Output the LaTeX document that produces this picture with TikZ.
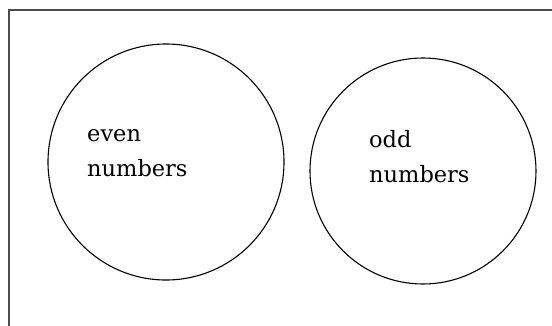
\documentclass[tikz,border=0pt]{standalone}
\usepackage{fontspec}
\newfontfamily\dvserif{DejaVu Serif}
\begin{document}
\begin{tikzpicture}[x=1pt,y=-1pt,
  frame/.style={draw=black!70,line width=2pt},
  setcircle/.style={draw=black,line width=1.1pt},
  lbl/.style={anchor=base west,inner sep=0pt,font=\dvserif\fontsize{22.5}{27}\selectfont}]
\useasboundingbox (0,0) rectangle (552,325);
\coordinate (fb) at (9,326);
\coordinate (fc) at (9,10);
\coordinate (fr) at (553,10);
\draw[frame] (fb) -- (fc) -- (fr);
\draw[setcircle] (166,162) circle[radius=118];
\draw[setcircle] (423,171) circle[radius=113];
\node[lbl] (even) at (87,141) {even};
\node[lbl] (evennum) at (87,176) {numbers};
\node[lbl] (odd) at (369,147) {odd};
\node[lbl] (oddnum) at (369,182) {numbers};
\end{tikzpicture}
\end{document}
